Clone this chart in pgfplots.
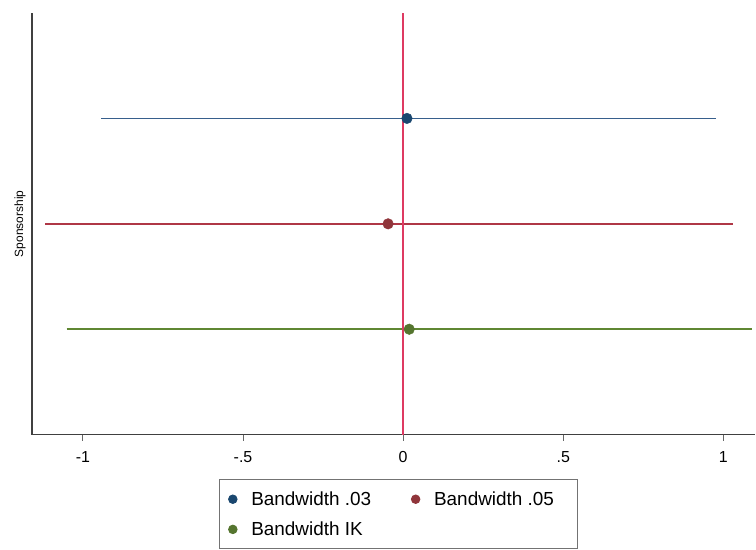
\documentclass[border=0pt]{standalone}
\usepackage{fontspec}
\setmainfont{Liberation Sans}
\usepackage{pgfplots}
\pgfplotsset{compat=1.18}
\definecolor{cblue}{RGB}{26,71,111}
\definecolor{cred}{RGB}{144,53,59}
\definecolor{cgreen}{RGB}{85,117,47}
\definecolor{vline}{RGB}{222,58,98}
\definecolor{hblue}{RGB}{55,95,140}
\definecolor{hred}{RGB}{175,55,70}
\definecolor{hgreen}{RGB}{95,135,50}
\begin{document}
\begin{tikzpicture}
\begin{axis}[
  scale only axis, width=724bp, height=422bp,
  xmin=-1.159, xmax=1.1, ymin=0, ymax=4,
  axis x line=bottom, axis y line=left,
  axis line style={-, draw=black!75, line width=1.2bp},
  ytick=\empty,
  xtick={-1,-0.5,0,0.5,1}, xticklabels={-1,-.5,0,.5,1},
  tick align=outside, major tick length=6bp,
  tick style={draw=black!60, line width=1bp},
  /pgf/number format/assume math mode=true,
  xticklabel style={font=\fontsize{16}{19}\selectfont, yshift=-7bp},
  ylabel={Sponsorship},
  ylabel style={font=\fontsize{12}{14}\selectfont, at={(axis description cs:-0.0166,0.5)}, anchor=center},
  legend columns=2,
  legend cell align=left,
  legend style={at={(axis description cs:0.2583,-0.1055)}, anchor=north west,
    draw=black!55, line width=1bp, font=\fontsize{19}{22}\selectfont,
    inner xsep=6bp, inner ysep=10bp, row sep=11bp,
    /tikz/every even column/.append style={column sep=35bp}},
  legend image code/.code={\path (0bp,0bp) (23bp,0bp); \draw[#1, mark size=4.2bp] plot coordinates {(7bp,0bp)};},
]
\coordinate (bl) at (rel axis cs:0,0);
% confidence intervals
\addplot[hblue, line width=1.7bp, forget plot] coordinates {(-0.942,3) (0.977,3)};
\addplot[hred, line width=1.7bp, forget plot] coordinates {(-1.117,2) (1.030,2)};
\addplot[hgreen, line width=1.7bp, forget plot] coordinates {(-1.051,1) (1.089,1)};
% zero line
\addplot[vline, line width=2bp, forget plot] coordinates {(0,0) (0,4)};
% point estimates
\addplot[only marks, mark=*, mark size=5.3bp, color=cblue] coordinates {(0.012,3)};
\addlegendentry{Bandwidth .03}
\addplot[only marks, mark=*, mark size=5.3bp, color=cred] coordinates {(-0.047,2)};
\addlegendentry{\makebox[136bp][l]{Bandwidth .05}}
\addplot[only marks, mark=*, mark size=5.3bp, color=cgreen] coordinates {(0.019,1)};
\addlegendentry{Bandwidth IK\rule[-10bp]{0pt}{0pt}}
\end{axis}
\path[use as bounding box] ([shift={(-32bp,-109bp)}]bl) rectangle ([shift={(724bp,435bp)}]bl);
\end{tikzpicture}
\end{document}
